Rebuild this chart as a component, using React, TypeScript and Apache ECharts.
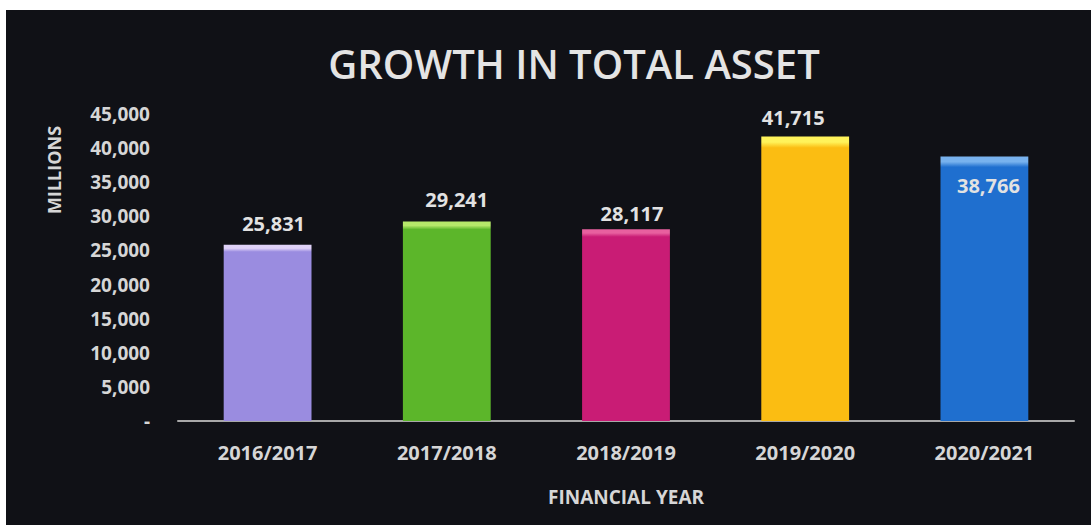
import React, { useEffect, useRef } from "react";
import * as echarts from "echarts";

const categories = ["2016/2017", "2017/2018", "2018/2019", "2019/2020", "2020/2021"];
const values = [25831, 29241, 28117, 41715, 38766];
const mainColors = ["#9a8ce0", "#5cb62a", "#c91c75", "#fbbd12", "#1f6fcf"];
const topColors = ["#e0d2f8", "#b6e86a", "#e8609f", "#fff35a", "#78b2ee"];
const labelPositions = ["top", "top", "top", "top", "insideTop"];
const labelOffsets = [[6, -6], [10, -7], [6, -1], [-12, -4], [4, 14]];
const yTicks = { min: 0, max: 45000, interval: 5000 };

export default function App() {
  const ref = useRef<HTMLDivElement>(null);
  useEffect(() => {
    if (!ref.current) return;
    const chart = echarts.init(ref.current, undefined, { renderer: "svg" });
    const font = "'Open Sans', 'DejaVu Sans', sans-serif";
    const textColor = "#d6d6d6";
    chart.setOption({
      animation: false,
      backgroundColor: "#ffffff",
      graphic: [
        {
          type: "rect",
          z: -10,
          shape: { x: 6, y: 10, width: 1085, height: 515 },
          style: { fill: "#101116" },
        },
        {
          type: "text",
          x: 54,
          y: 170,
          rotation: Math.PI / 2,
          style: {
            text: "MILLIONS",
            fill: textColor,
            font: "bold 18px 'Open Sans', sans-serif",
            align: "center",
            verticalAlign: "middle",
          },
        },
      ],
      title: {
        text: "GROWTH IN TOTAL ASSET",
        left: 569,
        top: 38,
        textAlign: "center",
        textStyle: { color: "#e4e4e4", fontSize: 40, fontWeight: 600, fontFamily: font },
      },
      grid: { left: 178, right: 17, top: 114, bottom: 104 },
      xAxis: {
        type: "category",
        data: categories,
        name: "FINANCIAL YEAR",
        nameLocation: "middle",
        nameGap: 66,
        nameTextStyle: { color: textColor, fontSize: 19, fontWeight: "bold", fontFamily: font },
        axisLine: { lineStyle: { color: "#a8a8a8", width: 2 } },
        axisTick: { show: false },
        axisLabel: { color: textColor, fontSize: 20, fontWeight: "bold", fontFamily: font, margin: 21 },
      },
      yAxis: {
        type: "value",
        min: yTicks.min,
        max: yTicks.max,
        interval: yTicks.interval,
        axisLine: { show: false },
        axisTick: { show: false },
        splitLine: { show: false },
        axisLabel: {
          color: textColor,
          fontSize: 19,
          fontWeight: "bold",
          fontFamily: font,
          margin: 28,
          formatter: (v: number) => (v === 0 ? "-" : v.toLocaleString("en-US")),
        },
      },
      series: [
        {
          type: "bar",
          barWidth: "49%",
          data: values.map((v, i) => ({
            value: v,
            itemStyle: {
              color: new echarts.graphic.LinearGradient(0, 0, 0, 1, [
                { offset: 0, color: topColors[i] },
                { offset: 0.02, color: topColors[i] },
                { offset: 0.04, color: mainColors[i] },
                { offset: 1, color: mainColors[i] },
              ]),
            },
            label: {
              show: true,
              position: labelPositions[i],
              offset: labelOffsets[i],
              color: "#e2e2e2",
              fontSize: 20,
              fontWeight: "bold",
              fontFamily: font,
              formatter: (p: any) => Number(p.value).toLocaleString("en-US"),
            },
          })),
        },
      ],
    });
    return () => chart.dispose();
  }, []);
  return (
    <div
      ref={ref}
      style={{ position: "absolute", left: 0, top: 0, width: 1091, height: 525 }}
    />
  );
}
